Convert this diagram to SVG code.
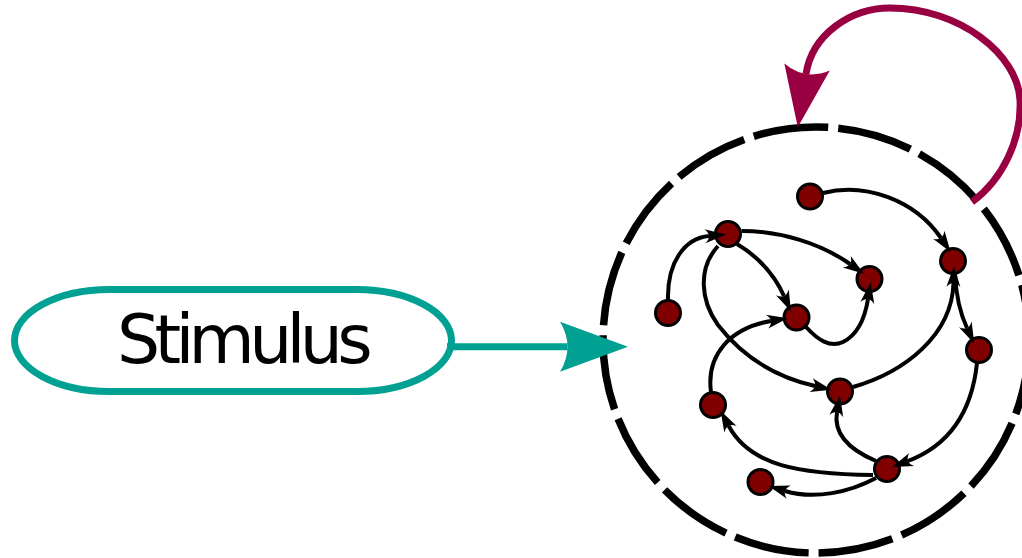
<svg xmlns="http://www.w3.org/2000/svg" width="1022" height="558" viewBox="0 0 1022 558">
  <style>
    .neuron { fill: #800000; stroke: #000; stroke-width: 3; }
    .syn { fill: none; stroke: #000; stroke-width: 4; marker-end: url(#arr); }
    .label { font-family: "DejaVu Sans", "Liberation Sans", sans-serif; font-size: 68px; fill: #000; letter-spacing: -5.7px; }
  </style>
  <defs>
    <marker id="arr" markerUnits="userSpaceOnUse" markerWidth="40" markerHeight="40" refX="0" refY="0" orient="auto" overflow="visible">
      <path d="M-4,-7 L17,0 L-4,7 Q4,0 -4,-7 Z" fill="#000"/>
    </marker>
    <marker id="arrT" markerUnits="userSpaceOnUse" markerWidth="100" markerHeight="100" refX="0" refY="0" orient="auto" overflow="visible">
      <path d="M-7.5,-25 L60.5,0 L-7.5,25 Q7.5,0 -7.5,-25 Z" fill="#00a092"/>
    </marker>
    <marker id="arrM" markerUnits="userSpaceOnUse" markerWidth="100" markerHeight="100" refX="0" refY="0" orient="auto" overflow="visible">
      <path d="M-7,-23 L54,0 L-7,23 Q7,0 -7,-23 Z" fill="#990042"/>
    </marker>
  </defs>

  <rect width="1022" height="558" fill="#fff"/>

  <!-- reservoir boundary -->
  <g id="reservoir">
    <circle cx="816" cy="340" r="213" fill="none" stroke="#000" stroke-width="7.5" pathLength="360" stroke-dasharray="20.3 2.7"/>
  </g>

  <!-- input node -->
  <g id="stimulus">
    <rect x="14.5" y="289.5" width="437" height="102" rx="95" ry="51" fill="#fff" stroke="#00a092" stroke-width="7"/>
    <text class="label" x="117" y="363">Stimulus</text>
  </g>

  <!-- neurons -->
  <g id="nA"><circle class="neuron" cx="810" cy="196.5" r="12.5"/></g>
  <g id="nB"><circle class="neuron" cx="728" cy="234" r="12.5"/></g>
  <g id="nC"><circle class="neuron" cx="953" cy="261" r="12.5"/></g>
  <g id="nD"><circle class="neuron" cx="869.5" cy="279" r="12.5"/></g>
  <g id="nE"><circle class="neuron" cx="668" cy="313" r="12.5"/></g>
  <g id="nF"><circle class="neuron" cx="796.5" cy="317.5" r="12.5"/></g>
  <g id="nG"><circle class="neuron" cx="979" cy="350" r="12.5"/></g>
  <g id="nH"><circle class="neuron" cx="840" cy="391.5" r="12.5"/></g>
  <g id="nI"><circle class="neuron" cx="713" cy="405" r="12.5"/></g>
  <g id="nJ"><circle class="neuron" cx="887" cy="469" r="12.5"/></g>
  <g id="nK"><circle class="neuron" cx="760.5" cy="482" r="12.5"/></g>

  <!-- connectors -->
  <g id="connectors">
    <path d="M447,346.7 L567.5,346.7" fill="none" stroke="#00a092" stroke-width="7" marker-end="url(#arrT)"/>
    <path d="M972,202 C1002,180 1022,140 1020,100 C1018,55 960,8 890,8 C850,8 812,35 806,74" fill="none" stroke="#990042" stroke-width="7" marker-end="url(#arrM)"/>

    <path class="syn" d="M668,300 C667,262 685,238 709,236"/>
    <path class="syn" d="M741.5,231 C780,231 820,243 850,264"/>
    <path class="syn" d="M737,244 C757,256 774,274 784,296"/>
    <path class="syn" d="M718,246 C698,268 700,300 718,325 C745,360 780,378 815,386"/>
    <path class="syn" d="M806,327 C818,340 830,348 843,342 C857,335 865,318 868,299"/>
    <path class="syn" d="M711,392 C706,355 730,328 771,321"/>
    <path class="syn" d="M823,193 C865,182 915,200 941,238"/>
    <path class="syn" d="M853,387 C905,372 952,335 953.5,283"/>
    <path class="syn" d="M955,274 C956,295 960,313 967,328"/>
    <path class="syn" d="M977,363 C972,410 950,445 908,461"/>
    <path class="syn" d="M876,461 C850,450 833,435 837,412"/>
    <path class="syn" d="M873,475 C800,474 750,466 728.6,425.8"/>
    <path class="syn" d="M876,478 C850,492 815,500 785,491"/>
  </g>
</svg>
